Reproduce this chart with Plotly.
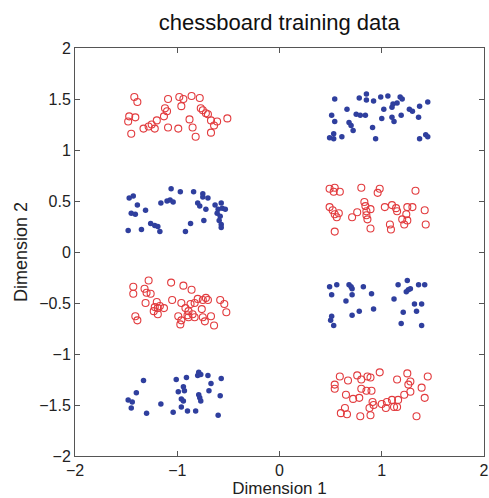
import plotly.graph_objects as go

# Red open circles (class 1)
red_x = [-1.42, -1.39, -1.09, -0.98, -0.94, -0.86, -0.78, -0.96, -1.12, -1.10, -0.77, -0.75, -0.72,
         -1.47, -1.41, -1.48, -1.45, -1.20, -1.25, -1.33, -1.28, -1.22, -1.13, -1.09, -0.99, -0.88,
         -0.85, -0.82, -0.67, -0.61, -0.64, -0.67, -0.51, -0.70,
         0.49, 0.54, 0.53, 0.59, 0.80, 0.98, 0.96, 1.33, 0.49, 0.52, 0.54, 0.56, 0.58, 0.71, 0.76,
         0.83, 0.84, 0.85, 0.85, 0.86, 0.89, 1.03, 1.10, 1.14, 1.15, 1.25, 1.30, 1.24, 1.42, 1.25,
         1.20, 1.22, 0.54, 0.89, 1.08, 1.09, 1.43,
         -1.28, -1.43, -1.32, -1.30, -1.26, -1.43, -1.06, -0.94, -0.86, -1.31, -1.20, -1.22, -1.19,
         -1.17, -1.13, -1.23, -1.19, -1.41, -1.39, -1.05, -0.96, -0.92, -0.89, -0.87, -0.80, -0.75,
         -0.70, -0.72, -0.76, -0.83, -0.58, -0.54, -0.52, -0.90, -0.85, -0.83, -0.89, -0.99, -0.96,
         -0.97, -0.75, -0.73, -0.67, -0.64,
         0.59, 0.67, 0.54, 0.54, 0.76, 0.80, 0.86, 0.89, 0.98, 1.15, 1.25, 1.28, 1.26, 1.45, 1.39,
         1.42, 0.65, 0.72, 0.78, 0.80, 0.85, 0.90, 0.91, 0.92, 1.00, 1.05, 1.10, 1.12, 1.15, 1.16,
         1.22, 1.28, 0.64, 0.60, 0.66, 0.79, 0.89, 0.88, 1.34, 1.04]
red_y = [1.52, 1.47, 1.50, 1.52, 1.50, 1.53, 1.51, 1.43, 1.41, 1.38, 1.41, 1.39, 1.36,
         1.33, 1.32, 1.28, 1.16, 1.29, 1.25, 1.21, 1.23, 1.21, 1.33, 1.22, 1.21, 1.30,
         1.22, 1.13, 1.29, 1.28, 1.24, 1.17, 1.31, 1.35,
         0.62, 0.63, 0.59, 0.59, 0.63, 0.62, 0.58, 0.60, 0.44, 0.41, 0.37, 0.34, 0.38, 0.34, 0.39,
         0.49, 0.45, 0.40, 0.36, 0.32, 0.42, 0.44, 0.46, 0.43, 0.40, 0.44, 0.44, 0.37, 0.41, 0.31,
         0.32, 0.27, 0.20, 0.23, 0.27, 0.22, 0.27,
         -0.28, -0.34, -0.36, -0.40, -0.41, -0.41, -0.30, -0.33, -0.37, -0.50, -0.49, -0.54, -0.55,
         -0.53, -0.55, -0.58, -0.61, -0.63, -0.67, -0.47, -0.50, -0.55, -0.58, -0.51, -0.46, -0.47,
         -0.47, -0.45, -0.56, -0.50, -0.47, -0.51, -0.59, -0.62, -0.61, -0.64, -0.64, -0.63, -0.67,
         -0.71, -0.64, -0.68, -0.63, -0.72,
         -1.22, -1.26, -1.30, -1.34, -1.21, -1.25, -1.22, -1.23, -1.18, -1.25, -1.19, -1.27, -1.30,
         -1.22, -1.33, -1.43, -1.40, -1.44, -1.43, -1.34, -1.36, -1.36, -1.47, -1.50, -1.49, -1.47,
         -1.45, -1.52, -1.52, -1.45, -1.40, -1.37, -1.53, -1.58, -1.59, -1.61, -1.60, -1.53, -1.61,
         -1.53]

# Blue filled dots (class 2)
blue_x = [0.54, 0.78, 0.85, 0.85, 0.92, 0.99, 1.06, 1.18, 1.20, 1.11, 1.15, 1.10, 1.02, 1.27,
          1.30, 1.37, 1.45, 0.66, 0.51, 0.54, 0.75, 0.79, 0.84, 0.68, 0.70, 1.00, 1.10, 1.12, 1.19,
          1.36, 0.91, 0.72, 0.53, 0.49, 0.53, 0.61, 0.94, 1.37, 1.43, 1.45,
          -1.47, -1.43, -1.39, -1.45, -1.41, -1.31, -1.48, -1.35, -1.26, -1.22, -1.19, -1.17, -1.16,
          -1.10, -1.07, -1.04, -1.06, -0.97, -0.84, -0.75, -0.75, -0.70, -0.80, -0.78, -0.72, -0.63,
          -0.57, -0.60, -0.56, -0.53, -0.61, -0.58, -0.59, -0.57, -0.57, -0.74, -0.87, -0.92,
          0.49, 0.56, 0.68, 0.71, 0.70, 0.82, 0.51, 0.71, 0.65, 0.90, 0.92, 0.78, 0.71, 0.51, 0.50,
          0.53, 1.16, 1.25, 1.26, 1.28, 1.24, 1.36, 1.42, 1.12, 1.32, 1.39, 1.21, 1.34, 1.19, 1.39,
          -1.33, -1.40, -1.48, -1.44, -1.45, -1.30, -1.16, -1.01, -0.91, -0.80, -0.79, -0.77, -0.70,
          -0.67, -0.57, -0.94, -0.93, -0.99, -0.96, -0.94, -0.96, -1.04, -0.90, -0.82, -0.79, -0.78,
          -0.77, -0.69, -0.58, -0.60]
blue_y = [1.50, 1.51, 1.55, 1.49, 1.48, 1.52, 1.53, 1.52, 1.50, 1.45, 1.46, 1.42, 1.40, 1.40,
          1.38, 1.43, 1.47, 1.40, 1.34, 1.28, 1.35, 1.34, 1.34, 1.27, 1.24, 1.31, 1.32, 1.28, 1.34,
          1.32, 1.22, 1.19, 1.16, 1.12, 1.11, 1.13, 1.11, 1.11, 1.15, 1.13,
          0.53, 0.55, 0.46, 0.38, 0.37, 0.41, 0.21, 0.22, 0.28, 0.26, 0.25, 0.20, 0.48,
          0.50, 0.51, 0.49, 0.62, 0.59, 0.59, 0.57, 0.54, 0.53, 0.48, 0.45, 0.42, 0.46,
          0.48, 0.42, 0.43, 0.42, 0.38, 0.35, 0.31, 0.27, 0.24, 0.31, 0.28, 0.20,
          -0.34, -0.32, -0.32, -0.36, -0.34, -0.34, -0.42, -0.42, -0.48, -0.41, -0.56, -0.58, -0.62,
          -0.63, -0.67, -0.72, -0.32, -0.28, -0.37, -0.36, -0.39, -0.32, -0.32, -0.46, -0.51, -0.51,
          -0.59, -0.58, -0.70, -0.72,
          -1.26, -1.38, -1.45, -1.47, -1.53, -1.58, -1.49, -1.25, -1.23, -1.21, -1.18, -1.20, -1.21,
          -1.29, -1.24, -1.32, -1.36, -1.37, -1.44, -1.46, -1.52, -1.57, -1.56, -1.56, -1.40, -1.43,
          -1.46, -1.36, -1.41, -1.60]

x_ticks = [-2, -1, 0, 1, 2]
y_ticks = [-2, -1.5, -1, -0.5, 0, 0.5, 1, 1.5, 2]

FONT = "Liberation Sans, Arial, Helvetica, sans-serif"

fig = go.Figure()
fig.add_trace(go.Scatter(
    x=red_x, y=red_y, mode="markers",
    marker=dict(symbol="circle-open", size=7, color="#e23b3e", line=dict(width=1.1)),
    showlegend=False, hoverinfo="skip"))
fig.add_trace(go.Scatter(
    x=blue_x, y=blue_y, mode="markers",
    marker=dict(symbol="circle", size=5.5, color="#2f3f9e"),
    showlegend=False, hoverinfo="skip"))

axis_common = dict(
    showgrid=False, zeroline=False, showline=True, linecolor="#555555", linewidth=1,
    mirror="ticks", ticks="inside", ticklen=5, tickcolor="#555555",
    tickfont=dict(family=FONT, size=16, color="#222222"), automargin=False,
)
fig.update_xaxes(range=[-2, 2], tickvals=x_ticks,
                 title=dict(text="Dimension 1", font=dict(family=FONT, size=17, color="#222222"), standoff=3),
                 **axis_common)
fig.update_yaxes(range=[-2, 2], tickvals=y_ticks,
                 title=dict(text="Dimension 2", font=dict(family=FONT, size=18, color="#222222"), standoff=6),
                 **axis_common)

fig.update_layout(
    width=489, height=498,
    margin=dict(l=75, r=5, t=48, b=42),
    paper_bgcolor="white", plot_bgcolor="white",
    title=dict(text="chessboard training data", x=0.571, xanchor="center", y=0.956, yanchor="middle",
               font=dict(family=FONT, size=22, color="#111111")),
)

fig.write_html("out.html", config={"displayModeBar": False},
               post_script="document.body.style.margin='0';")
